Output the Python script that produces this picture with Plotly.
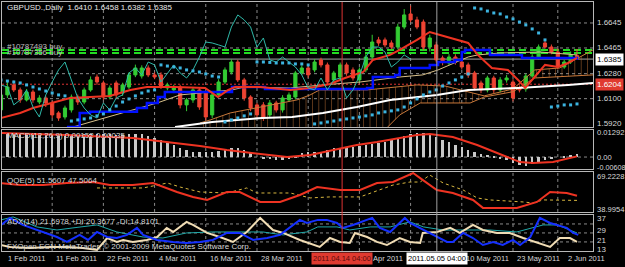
import plotly.graph_objects as go
from plotly.subplots import make_subplots

# ---------------- data ----------------
bars = list(range(91))
open_ = [1.6019,1.6127,1.6199,1.6163,1.6091,1.6148,1.6076,1.6105,1.6069,1.5997,
1.5968,1.6019,1.6112,1.6076,1.6163,1.6256,1.6213,1.6112,1.6213,1.6141,
1.6184,1.6271,1.6263,1.6321,1.6271,1.6271,1.6177,1.6163,1.6184,1.6055,
1.6091,1.6163,1.6141,1.5983,1.6127,1.6220,1.6292,1.6364,1.6235,1.6112,
1.6055,1.6055,1.5983,1.6069,1.6019,1.6091,1.6112,1.6285,1.6321,1.6307,
1.6379,1.6343,1.6235,1.6256,1.6343,1.6307,1.6235,1.6307,1.6400,1.6523,
1.6523,1.6501,1.6472,1.6616,1.6710,1.6667,1.6652,1.6472,1.6487,1.6393,
1.6357,1.6400,1.6364,1.6343,1.6285,1.6213,1.6163,1.6249,1.6163,1.6235,
1.6220,1.6177,1.6170,1.6263,1.6393,1.6501,1.6472,1.6436,1.6328,1.6364,
1.6410]
close = [1.6127,1.6184,1.6163,1.6091,1.6148,1.6091,1.6105,1.6069,1.5983,1.5961,
1.6033,1.6112,1.6076,1.6163,1.6235,1.6220,1.6112,1.6177,1.6127,1.6199,
1.6271,1.6321,1.6321,1.6271,1.6256,1.6184,1.6199,1.6184,1.6055,1.6091,
1.6163,1.6040,1.5968,1.6127,1.6220,1.6307,1.6364,1.6235,1.6105,1.6033,
1.5983,1.5961,1.6069,1.6019,1.6105,1.6127,1.6285,1.6321,1.6271,1.6364,
1.6343,1.6220,1.6285,1.6343,1.6285,1.6249,1.6307,1.6400,1.6508,1.6501,
1.6487,1.6472,1.6616,1.6703,1.6667,1.6616,1.6472,1.6537,1.6379,1.6364,
1.6400,1.6364,1.6328,1.6271,1.6177,1.6163,1.6249,1.6163,1.6235,1.6249,
1.6105,1.6163,1.6263,1.6400,1.6472,1.6472,1.6436,1.6328,1.6364,1.6415,
1.6385]
high = [1.6141,1.6220,1.6230,1.6180,1.6170,1.6165,1.6125,1.6120,1.6085,1.6010,
1.6050,1.6130,1.6130,1.6180,1.6260,1.6275,1.6230,1.6195,1.6230,1.6215,
1.6290,1.6345,1.6340,1.6340,1.6290,1.6290,1.6215,1.6200,1.6200,1.6105,
1.6185,1.6180,1.6155,1.6145,1.6240,1.6325,1.6385,1.6380,1.6250,1.6125,
1.6070,1.6075,1.6090,1.6085,1.6125,1.6145,1.6300,1.6340,1.6340,1.6385,
1.6395,1.6360,1.6300,1.6360,1.6360,1.6325,1.6325,1.6420,1.6560,1.6545,
1.6540,1.6520,1.6640,1.6745,1.6770,1.6690,1.6670,1.6560,1.6510,1.6410,
1.6420,1.6420,1.6385,1.6360,1.6300,1.6230,1.6265,1.6265,1.6255,1.6270,
1.6240,1.6195,1.6280,1.6420,1.6490,1.6530,1.6490,1.6460,1.6380,1.6440,
1.6458]
low = [1.5990,1.6105,1.6148,1.6070,1.6080,1.6070,1.6060,1.6040,1.5960,1.5940,
1.5950,1.6000,1.6055,1.6060,1.6150,1.6200,1.6090,1.6095,1.6100,1.6120,
1.6170,1.6255,1.6245,1.6255,1.6240,1.6170,1.6160,1.6140,1.6030,1.6010,
1.6070,1.6020,1.5945,1.5960,1.6110,1.6205,1.6275,1.6220,1.6085,1.6010,
1.5960,1.5940,1.5965,1.6000,1.6000,1.6075,1.6095,1.6270,1.6250,1.6290,
1.6325,1.6200,1.6215,1.6240,1.6265,1.6230,1.6215,1.6290,1.6385,1.6480,
1.6470,1.6455,1.6455,1.6600,1.6650,1.6600,1.6450,1.6440,1.6360,1.6340,
1.6340,1.6345,1.6310,1.6250,1.6160,1.6140,1.6145,1.6140,1.6145,1.6215,
1.6080,1.6145,1.6150,1.6250,1.6380,1.6460,1.6420,1.6310,1.6315,1.6350,
1.6382]

sar = [1.6235,1.6227,1.6220,1.6213,1.6199,1.6184,1.6170,1.6155,1.6141,1.6127,
1.6120,1.5939,1.5947,1.5954,1.5961,1.5976,1.5990,1.6019,1.6047,1.6076,
1.6098,1.6120,1.6141,1.6155,1.6163,1.6343,1.6335,1.6328,1.6321,1.6307,
1.6300,1.6292,1.6278,1.6263,1.6256,1.5932,1.5947,1.5961,1.5976,1.5990,
1.6364,1.6364,1.6361,1.6357,1.6357,1.6357,1.6350,1.6350,1.6343,1.5918,
1.5925,1.5932,1.5939,1.5947,1.5954,1.5961,1.5968,1.5976,1.5983,1.5997,
1.6005,1.6012,1.6019,1.6040,1.6069,1.6098,1.6127,1.6148,1.6163,1.6191,
1.6213,1.6235,1.6256,1.6278,1.6753,1.6746,1.6731,1.6717,1.6710,1.6688,
1.6674,1.6652,1.6631,1.6602,1.6573,1.6523,1.6040,1.6047,1.6055,1.6055,
1.6062]

tenkan_bar = [0,3,5,7.7,10.8,13.9,17,20.2,22.8,27.2,31.9,33.9,35.5,36.6,40.5,45.2,48.3,51.4,53.75,56.6,58.1,60.8,62.3,65,67,68.6,73,74.5,76.7,79.2,80.8,81.9,83.4,85,87,88.6,90]
tenkan_val = [1.5961,1.5997,1.6033,1.6069,1.6105,1.6112,1.6120,1.6163,1.6184,1.6184,1.6177,1.6112,1.6163,1.6184,1.6184,1.6163,1.6177,1.6206,1.6249,1.6292,1.6379,1.6415,1.6451,1.6523,1.6580,1.6559,1.6501,1.6415,1.6321,1.6307,1.6235,1.6177,1.6256,1.6343,1.6328,1.6357,1.6393]

kijun_bar = [10.3,12.3,13.9,21.25,22.8,24.5,25.6,36.1,41.25,57.2,58.1,61.6,62.3,67,68.3,70.9,72,72.5,76.4,81.4,90]
kijun_val = [1.5896,1.5997,1.6005,1.6033,1.6069,1.6112,1.6148,1.6184,1.6170,1.6177,1.6256,1.6271,1.6321,1.6343,1.6364,1.6379,1.6436,1.6451,1.6415,1.6393,1.6379]

span_a_bar = [31.1,32.7,35.8,40.5,46.25,48.3,49.8,57.2,60.3,65,69.4,73.3,75.5,80,83.4,87.3,89.7,92.5]
span_a_val = [1.5925,1.5947,1.5997,1.6040,1.6091,1.6127,1.6163,1.6163,1.6177,1.6199,1.6191,1.6148,1.6120,1.6170,1.6307,1.6321,1.6379,1.6451]
span_b_bar = [31.1,46.7,59.2,62.3,65.5,73.3,75.5,80,83.4,92.5]
span_b_val = [1.5803,1.5803,1.5839,1.5983,1.6069,1.6069,1.6112,1.6150,1.6249,1.6271]

tan_bar = [11.25,20.6,24.4,28,36.1,38.1,45.2,50.3,56.1,62.3,65.9,68.3,73,74.5,78,84.2,90]
tan_val = [1.5896,1.6019,1.6069,1.6127,1.6163,1.6184,1.6177,1.6199,1.6220,1.6256,1.6271,1.6307,1.6400,1.6415,1.6429,1.6436,1.6415]

white_bar = [27.2,33,40.8,45.5,50.3,55.6,60.8,65,68.1,73,80.8,88.6,92.5]
white_val = [1.5896,1.5932,1.5961,1.5968,1.5997,1.6040,1.6091,1.6112,1.6127,1.6163,1.6177,1.6199,1.6213]

chikou_shift = 26

macd_hist = [0.01238,0.01292,0.01292,0.01292,0.01238,0.01238,0.01238,0.01184,0.01184,0.01130,
0.01130,0.01184,0.01184,0.01238,0.01238,0.01238,0.01238,0.01238,0.01184,0.01184,
0.01238,0.01238,0.01238,0.01130,0.01023,0.00915,0.00807,0.00646,0.00484,0.00377,
0.00269,0.00269,0.00269,0.00269,0.00323,0.00431,0.00484,0.00484,0.00377,0.00215,
0.0,-0.00054,-0.00108,-0.00161,-0.00161,-0.00108,0.00054,0.00215,0.00269,0.00269,
0.00269,0.00377,0.00484,0.00484,0.00538,0.00538,0.00592,0.00646,0.00700,0.00753,
0.00807,0.00915,0.01023,0.01130,0.01238,0.01292,0.01292,0.01184,0.01076,0.00915,
0.00807,0.00646,0.00538,0.00377,0.00269,0.00161,0.00108,0.00054,-0.00054,-0.00161,
-0.00323,-0.00431,-0.00484,-0.00377,-0.00269,-0.00161,-0.00054,0.0,0.00054,0.00108,
0.00152]
signal_bar = [0,10.3,20.6,31.1,35.3,41.6,44.7,48.3,51.9,55.6,58.75,62.3,65,67,70.6,74.4,77.5,81.1,83.1,86.25,90]
signal_val = [0.01292,0.01184,0.01023,0.00592,0.00377,0.00108,0.0,0.00108,0.00377,0.00646,0.00807,0.01023,0.01184,0.01238,0.01076,0.00646,0.00215,-0.00269,-0.00323,-0.00269,0.00035]

qqe_bar = [0,3,6.6,10.3,14.4,17,20.6,23.75,27.5,30,32.2,35.3,37.3,40.5,43.6,46.7,49.4,53,56.1,58.75,61.25,64.4,65.5,68.1,70.6,73.75,75.3,78.4,80.6,83.75,85.8,88.4,90]
qqe_val = [63.0,61.2,61.2,63.0,63.9,61.2,61.2,63.0,55.0,50.6,47.9,55.0,55.0,46.1,46.1,52.3,59.4,56.8,56.8,63.0,63.9,71.9,67.4,56.8,54.1,47.9,40.8,40.8,40.8,46.1,55.0,54.1,51.56]
qqe_slow_bar = [15,22.2,26,28,31.1,35.3,38.4,40,45.2,48.3,51.4,56.1,61.25,63.9,65.5,67,69.1,72.2,74.4,76.4,81.6,83.1,84.7,87.3,90]
qqe_slow_val = [58.6,58.6,63.0,59.4,55.0,54.1,58.6,54.1,54.1,49.7,50.6,50.6,61.2,63.9,63.9,70.1,63.0,56.8,49.7,47.9,46.1,45.2,47.9,47.9,47.5]

pdi_bar = [0,1.4,3.4,6.6,8.75,10.3,12.3,13.6,15,16.6,18.1,19.7,21.25,22.2,24.4,26.9,29,31.1,33.1,35.3,37.3,39.4,41.6,43.6,45.2,46.7,47.8,49.5,50.9,52.5,53.4,55,58,59.2,60.8,63.1,63.9,66.6,68.1,69.7,70.6,72.2,73.75,75.3,76.9,78.4,80,81.1,82.7,84.2,85.8,88.4,89.4,90.2]
pdi_val = [32.7,37.7,32.7,27.7,24.1,20.6,25.6,22.0,27.7,24.1,23.4,25.6,30.6,25.6,22.0,20.6,19.9,20.6,22.0,27.0,27.0,22.0,23.4,25.6,31.3,36.3,34.1,36.3,36.3,34.1,30.6,32.7,37.7,30.6,27.7,37.7,34.1,27.7,24.1,20.6,20.6,27.0,23.4,18.4,20.6,18.4,22.0,18.4,24.1,37.7,34.1,30.6,27.0,25.6]
adx_bar = [0,1.9,5.6,8.75,11.25,15,18.1,22.2,25.3,29,33.1,36.9,40.9,44.1,47.8,49.5,52.5,54.5,57.7,60.8,63.9,66,69.1,72.2,76.4,80.6,84.7,86.9,90]
adx_val = [36.3,38.4,31.3,29.1,30.6,32.7,27.7,24.1,23.4,27.0,27.7,27.7,27.7,25.6,27.7,31.3,31.3,29.1,31.3,31.3,34.9,31.3,29.1,29.1,29.1,27.7,32.7,32.7,27.0]
mdi_bar = [0,1.4,4.5,7.7,10.3,12.8,15,16.6,18.1,19.1,20.6,22.8,24.4,25.9,26.9,29,30,32.2,34.2,36.25,38.4,40.5,42.5,44.1,46.7,48.75,49.8,51.4,53,54.5,55.3,57.2,58.75,60.3,62.3,63.9,65.5,65.9,68.1,70.2,71.7,73.75,75.3,77.5,79.5,81.6,83.75,85.8,87.3,88.9,90]
mdi_val = [18.4,17.0,16.3,17.0,17.0,16.3,14.9,23.4,20.6,22.0,20.6,22.0,24.1,30.6,27.7,34.9,32.7,27.0,24.1,20.6,27.7,37.7,29.1,27.0,22.0,18.4,17.0,23.4,20.6,19.9,27.0,24.1,20.6,18.4,23.4,20.6,19.9,27.0,27.7,30.6,27.0,32.7,29.1,27.0,27.0,23.4,19.9,17.0,23.4,23.4,20.6]

date_bars = [0.45, 8, 16, 24, 32, 40, 48, 56, 64, 72, 80, 88]
date_labels = ["1 Feb 2011", "11 Feb 2011", "22 Feb 2011", "4 Mar 2011", "16 Mar 2011",
               "28 Mar 2011", "7 Apr 2011", "19 Apr 2011", "28 Apr 2011", "10 May 2011",
               "23 May 2011", "2 Jun 2011"]
vgrid_bars = [8, 16, 24, 32, 40, 48, 56, 64, 72, 80, 87]

price_grid = [1.6645, 1.6465, 1.6280, 1.6100]
price_labels = ["1.6645", "1.6465", "1.6280", "1.6100", "1.5920"]
price_label_vals = [1.6645, 1.6465, 1.6280, 1.6100, 1.5920]
order_levels = [1.6451, 1.6429]
order_texts = ["#10787493 buy", "#10787356 buy"]
bid = 1.6385
red_level = 1.6204
adx_levels = [33.4, 27.0, 20.6]

# ---------------- figure ----------------
FONT = "Liberation Sans"
TXT = "#d8d8d8"
fig = make_subplots(rows=4, cols=1, shared_xaxes=True, vertical_spacing=0.01)

# cloud
fig.add_trace(go.Scatter(x=span_a_bar, y=span_a_val, mode="lines",
                         line=dict(color="#c8783a", width=1)), row=1, col=1)
fig.add_trace(go.Scatter(x=span_b_bar, y=span_b_val, mode="lines",
                         line=dict(color="#c8783a", width=1), fill="tonexty",
                         fillcolor="rgba(0,0,0,0)",
                         fillpattern=dict(shape="|", fgcolor="#c8783a", bgcolor="rgba(0,0,0,0)",
                                          size=6.4, solidity=0.15)), row=1, col=1)
# MAs
fig.add_trace(go.Scatter(x=white_bar, y=white_val, mode="lines",
                         line=dict(color="#ffffff", width=2)), row=1, col=1)
fig.add_trace(go.Scatter(x=tan_bar, y=tan_val, mode="lines",
                         line=dict(color="#d8c08a", width=1)), row=1, col=1)
fig.add_trace(go.Scatter(x=kijun_bar, y=kijun_val, mode="lines", line_shape="hv",
                         line=dict(color="#0010ff", width=2.5)), row=1, col=1)
fig.add_trace(go.Scatter(x=tenkan_bar, y=tenkan_val, mode="lines",
                         line=dict(color="#ee3322", width=2)), row=1, col=1)
# chikou (close shifted back)
fig.add_trace(go.Scatter(x=[b - chikou_shift for b in bars[chikou_shift:]], y=close[chikou_shift:],
                         mode="lines", line=dict(color="#2fb8a8", width=1)), row=1, col=1)
# candles
fig.add_trace(go.Candlestick(x=bars, open=open_, high=high, low=low, close=close,
                             increasing=dict(line=dict(color="#33cc33", width=1), fillcolor="#33cc33"),
                             decreasing=dict(line=dict(color="#ee4433", width=1), fillcolor="#ee4433"),
                             whiskerwidth=0), row=1, col=1)
# SAR
fig.add_trace(go.Scatter(x=bars, y=sar, mode="markers",
                         marker=dict(symbol="square", size=3, color="#3cb4e0")), row=1, col=1)

# MACD
fig.add_trace(go.Bar(x=bars, y=macd_hist, width=0.35, marker=dict(color="#c8c8c8", line=dict(width=0))), row=2, col=1)
fig.add_trace(go.Scatter(x=signal_bar, y=signal_val, mode="lines",
                         line=dict(color="#ee3322", width=2)), row=2, col=1)
# QQE
fig.add_trace(go.Scatter(x=qqe_slow_bar, y=qqe_slow_val, mode="lines",
                         line=dict(color="#d9b840", width=1, dash="dot")), row=3, col=1)
fig.add_trace(go.Scatter(x=qqe_bar, y=qqe_val, mode="lines",
                         line=dict(color="#ee3322", width=2)), row=3, col=1)
# ADX
fig.add_trace(go.Scatter(x=adx_bar, y=adx_val, mode="lines",
                         line=dict(color="#20a8a8", width=1)), row=4, col=1)
fig.add_trace(go.Scatter(x=mdi_bar, y=mdi_val, mode="lines",
                         line=dict(color="#f0dcb4", width=2)), row=4, col=1)
fig.add_trace(go.Scatter(x=pdi_bar, y=pdi_val, mode="lines",
                         line=dict(color="#1530ff", width=2)), row=4, col=1)

# axes
domains = [[0.498, 1.0], [0.329, 0.486], [0.157, 0.317], [0.0, 0.145]]
ranges = [[1.5896, 1.6796], [-0.00646, 0.01453], [37.22, 72.78], [14.14, 39.86]]
for i in range(4):
    sfx = "" if i == 0 else str(i + 1)
    fig.layout["yaxis" + sfx].update(domain=domains[i], range=ranges[i], showgrid=False,
                                     zeroline=False, showticklabels=False, showline=True,
                                     mirror=True, linecolor="#b8b8b8", linewidth=1, fixedrange=True)
    fig.layout["xaxis" + sfx].update(range=[0.16, 92.5], showgrid=False, zeroline=False,
                                     showticklabels=False, showline=True, mirror=True,
                                     linecolor="#b8b8b8", linewidth=1,
                                     rangeslider=dict(visible=False))

shapes = []
# vertical grid
for b in vgrid_bars:
    for i in range(4):
        sfx = "" if i == 0 else str(i + 1)
        shapes.append(dict(type="line", xref="x" + sfx, yref="y" + sfx + " domain", x0=b, x1=b, y0=0, y1=1,
                           line=dict(color="#8a8a8a", width=1, dash="3px,3px"), layer="below"))
# horizontal grids
for p in price_grid:
    shapes.append(dict(type="line", xref="x domain", yref="y", x0=0, x1=1, y0=p, y1=p,
                       line=dict(color="#8a8a8a", width=1, dash="3px,3px"), layer="below"))
shapes.append(dict(type="line", xref="x2 domain", yref="y2", x0=0, x1=1, y0=0, y1=0,
                   line=dict(color="#8a8a8a", width=1, dash="3px,3px"), layer="below"))
for a in adx_levels:
    shapes.append(dict(type="line", xref="x4 domain", yref="y4", x0=0, x1=1, y0=a, y1=a,
                       line=dict(color="#8a8a8a", width=1, dash="3px,3px"), layer="below"))
# order lines / bid / red level
for lv in order_levels:
    shapes.append(dict(type="line", xref="x domain", yref="y", x0=0, x1=1, y0=lv, y1=lv,
                       line=dict(color="#22dd22", width=2, dash="7px,4px"), layer="below"))
shapes.append(dict(type="line", xref="x domain", yref="y", x0=0, x1=1, y0=bid, y1=bid,
                   line=dict(color="#a8a8a8", width=1), layer="below"))
shapes.append(dict(type="line", xref="x domain", yref="y", x0=0, x1=1, y0=red_level, y1=red_level,
                   line=dict(color="#dd3333", width=1, dash="2px,2px"), layer="below"))
# crosshair verticals
shapes.append(dict(type="line", xref="x", yref="paper", x0=53.3, x1=53.3, y0=0, y1=1,
                   line=dict(color="#dd3333", width=1)))
shapes.append(dict(type="line", xref="x", yref="paper", x0=68.1, x1=68.1, y0=0, y1=1,
                   line=dict(color="#a0a0a0", width=1)))

ann = []
def txt(x, y, s, xref="paper", yref="paper", color=TXT, bg=None, xanchor="left", size=8, xshift=0):
    d = dict(x=x, y=y, xref=xref, yref=yref, text=s, showarrow=False, xanchor=xanchor,
             yanchor="middle", font=dict(family=FONT, size=size, color=color), xshift=xshift,
             borderpad=1)
    if bg:
        d["bgcolor"] = bg
    ann.append(d)

txt(0.005, 0.976, "GBPUSD.,Daily  1.6410 1.6458 1.6382 1.6385", color="#e8e8e8")
txt(0.005, order_levels[0] + 0.0027, order_texts[0], yref="y", color="#bbbbbb")
txt(0.005, order_levels[1] + 0.0006, order_texts[1], yref="y", color="#bbbbbb")
txt(0.005, 0.462, "MACD(12,26,9) 0.00152 0.00035")
txt(0.005, 0.285, "QQE(5) 51.5607 47.5064")
txt(0.005, 0.1165, "ADX(14) 21.6978 +DI:20.3677 -DI:14.8101")
txt(0.005, 0.02, "FXOpen ECN MetaTrader, © 2001-2009 MetaQuotes Software Corp.")

XR = 1.004
for s, v in zip(price_labels, price_label_vals):
    txt(XR, v, s, yref="y")
txt(XR, bid, "1.6385", yref="y", color="#000000", bg="#ffffff")
txt(XR, red_level, "1.6204", yref="y", color="#ffffff", bg="#e03a30")
txt(XR, 0.01292, "0.01292", yref="y2", size=7.6)
txt(XR, 0.0, "0.00", yref="y2", size=7.6)
txt(XR, -0.0057, "-0.00608", yref="y2", size=7.2)
txt(XR, 69.2228, "69.2228", yref="y3", size=7.6)
txt(XR, 38.9954, "38.9954", yref="y3", size=7.6)
txt(XR, 37, "37", yref="y4")
txt(XR, 28.6, "29", yref="y4")
txt(XR, 21.5, "21", yref="y4")
txt(XR, 15.5, "13", yref="y4")

for b, s in zip(date_bars, date_labels):
    txt(b, -0.032, s, xref="x", xshift=2, size=7.5)
txt(53.3, -0.032, "2011.04.14 04:00", xref="x", xanchor="center", color="#5a0a0a", bg="#e03a30", size=7.5)
txt(68.1, -0.032, "2011.05.05 04:00", xref="x", xanchor="center", color="#000000", bg="#ffffff", size=7.5)

fig.update_layout(width=625, height=267, margin=dict(l=2, r=32, t=2, b=16),
                  paper_bgcolor="#000000", plot_bgcolor="#000000", showlegend=False,
                  shapes=shapes, annotations=ann, bargap=0)
fig.write_html("out.html")
